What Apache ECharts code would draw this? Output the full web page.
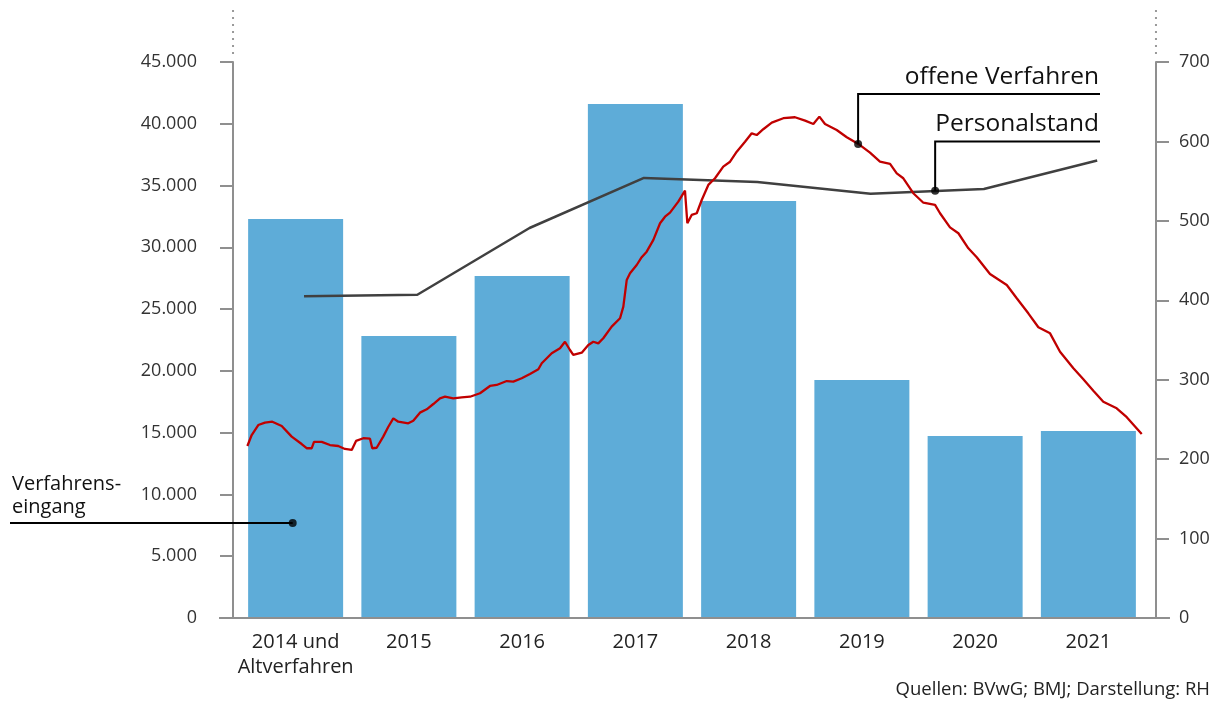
<!DOCTYPE html>
<html>
<head>
<meta charset="utf-8">
<script src="https://cdn.jsdelivr.net/npm/echarts@6/dist/echarts.min.js"></script>
<style>
  html, body { margin: 0; padding: 0; background: #fff; }
  #main { width: 1221px; height: 702px; }
</style>
</head>
<body>
<div id="main"></div>
<script>
// Kategorien und Werte
const jahre = ['2014 und\nAltverfahren', '2015', '2016', '2017', '2018', '2019', '2020', '2021']
const verfahrenseingang = [32300, 22820, 27680, 41600, 33750, 19260, 14730, 15140]

// Personalstand (rechte Achse), jeweils Jahresmitte
const personalZeit = [2014.5, 2015.5, 2016.49, 2017.5, 2018.5, 2019.5, 2020.5, 2021.5]
const personalstand = [405, 407, 491, 554, 549, 534, 540, 576]

// offene Verfahren (linke Achse), Zeitpunkt in Jahren
const offeneZeit = [
  2014.000, 2014.038, 2014.096, 2014.155, 2014.220, 2014.303, 2014.391, 2014.479, 2014.523, 2014.568,
  2014.588, 2014.656, 2014.729, 2014.802, 2014.861, 2014.921, 2014.959, 2015.023, 2015.082, 2015.102,
  2015.141, 2015.199, 2015.244, 2015.288, 2015.332, 2015.420, 2015.464, 2015.523, 2015.583, 2015.641,
  2015.700, 2015.744, 2015.817, 2015.891, 2015.965, 2016.053, 2016.141, 2016.200, 2016.289, 2016.347,
  2016.421, 2016.494, 2016.568, 2016.598, 2016.686, 2016.759, 2016.803, 2016.847, 2016.876, 2016.951,
  2017.009, 2017.053, 2017.097, 2017.141, 2017.215, 2017.289, 2017.318, 2017.348, 2017.377, 2017.436,
  2017.480, 2017.524, 2017.583, 2017.642, 2017.686, 2017.730, 2017.803, 2017.862, 2017.883, 2017.921,
  2017.966, 2018.010, 2018.068, 2018.127, 2018.200, 2018.260, 2018.319, 2018.392, 2018.451, 2018.495,
  2018.553, 2018.628, 2018.730, 2018.833, 2018.922, 2018.995, 2019.048, 2019.098, 2019.201, 2019.290,
  2019.392, 2019.495, 2019.583, 2019.672, 2019.731, 2019.789, 2019.877, 2019.966, 2020.069, 2020.113,
  2020.201, 2020.275, 2020.363, 2020.437, 2020.554, 2020.702, 2020.790, 2020.892, 2020.981, 2021.084,
  2021.172, 2021.290, 2021.378, 2021.466, 2021.554, 2021.672, 2021.761, 2021.893
]
const offeneVerfahren = [
  13920, 14810, 15620, 15810, 15890, 15540, 14680, 14080, 13740, 13740,
  14250, 14250, 14000, 13920, 13680, 13600, 14330, 14550, 14510, 13740,
  13780, 14680, 15480, 16160, 15890, 15760, 15970, 16620, 16890, 17320,
  17780, 17910, 17780, 17860, 17910, 18190, 18780, 18860, 19180, 19130,
  19400, 19750, 20130, 20620, 21430, 21830, 22360, 21690, 21290, 21470,
  22100, 22360, 22230, 22640, 23580, 24260, 25200, 27360, 27900, 28570,
  29200, 29650, 30600, 31950, 32480, 32810, 33700, 34590, 31950, 32620,
  32760, 33830, 35050, 35590, 36530, 36930, 37740, 38550, 39230, 39090,
  39560, 40090, 40450, 40530, 40250, 39980, 40580, 39980, 39500, 38910,
  38370, 37660, 36930, 36750, 35990, 35590, 34380, 33610, 33430, 32760,
  31620, 31140, 29920, 29200, 27840, 26950, 25880, 24660, 23530, 23040,
  21550, 20210, 19320, 18400, 17510, 16970, 16250, 14890
]

// Ankerpunkte der Beschriftungen (Daten-Koordinaten)
const ankerOffene = [2019.39, 38370]
const ankerPersonal = [2020.07, 538]
const ankerEingang = [2014.40, 7690]

const schrift = 'Open Sans'
const achsenGrau = '#8f8f8f'

function tausender(v) {
  return String(v).replace(/\B(?=(\d{3})+(?!\d))/g, '.')
}

let myChart = echarts.init(document.querySelector('#main'))

const option = {
  animation: false,
  textStyle: { fontFamily: schrift },
  grid: {
    left: 239,
    right: 76,
    top: 62,
    bottom: 84
  },
  xAxis: [
    {
      type: 'category',
      data: jahre,
      axisLine: { show: false },
      axisTick: { show: false },
      axisLabel: {
        interval: 0,
        color: '#222',
        fontSize: 20,
        lineHeight: 25,
        margin: 12,
        fontFamily: schrift
      }
    },
    {
      // versteckte Zeitachse für die Linien
      type: 'value',
      min: 2013.926,
      max: 2021.922,
      show: false
    }
  ],
  yAxis: [
    {
      type: 'value',
      min: 0,
      max: 45000,
      interval: 5000,
      offset: 6,
      axisLine: { show: true, lineStyle: { color: achsenGrau, width: 2 } },
      axisTick: { show: true, length: 13, lineStyle: { color: achsenGrau, width: 2 } },
      splitLine: { show: false },
      axisLabel: {
        color: '#333',
        fontSize: 18,
        margin: 36,
        fontFamily: schrift,
        formatter: tausender
      }
    },
    {
      type: 'value',
      min: 0,
      max: 700,
      interval: 100,
      offset: 11,
      position: 'right',
      axisLine: { show: true, lineStyle: { color: achsenGrau, width: 2 } },
      axisTick: { show: true, length: 13, lineStyle: { color: achsenGrau, width: 2 } },
      splitLine: { show: false },
      axisLabel: {
        color: '#333',
        fontSize: 18,
        margin: 23,
        fontFamily: schrift
      }
    }
  ],
  series: [
    {
      name: 'Verfahrenseingang',
      type: 'bar',
      data: verfahrenseingang,
      xAxisIndex: 0,
      yAxisIndex: 0,
      barWidth: 95,
      itemStyle: { color: '#5eacd8' },
      z: 1
    },
    {
      name: 'offene Verfahren',
      type: 'line',
      data: offeneZeit.map((t, i) => [t, offeneVerfahren[i]]),
      xAxisIndex: 1,
      yAxisIndex: 0,
      showSymbol: false,
      lineStyle: { color: '#c00000', width: 2.3 },
      z: 4
    },
    {
      name: 'Personalstand',
      type: 'line',
      data: personalZeit.map((t, i) => [t, personalstand[i]]),
      xAxisIndex: 1,
      yAxisIndex: 1,
      showSymbol: false,
      lineStyle: { color: '#404040', width: 2.5 },
      z: 3
    },
    {
      // Punkte der Beschriftungen, linke Achse
      type: 'scatter',
      data: [ankerOffene, ankerEingang],
      xAxisIndex: 1,
      yAxisIndex: 0,
      symbolSize: 8,
      itemStyle: { color: '#000' },
      z: 6
    },
    {
      // Punkt der Beschriftung, rechte Achse
      type: 'scatter',
      data: [ankerPersonal],
      xAxisIndex: 1,
      yAxisIndex: 1,
      symbolSize: 8,
      itemStyle: { color: '#000' },
      z: 6
    }
  ]
}

myChart.setOption(option)

// Hinweislinien aus den Pixelpositionen der Ankerpunkte
const pOffene = myChart.convertToPixel({ seriesIndex: 3 }, ankerOffene)
const pEingang = myChart.convertToPixel({ seriesIndex: 3 }, ankerEingang)
const pPersonal = myChart.convertToPixel({ seriesIndex: 4 }, ankerPersonal)
const yNull = myChart.convertToPixel({ seriesIndex: 0 }, [0, 0])[1]
const xLinks = myChart.convertToPixel({ xAxisIndex: 0 }, 0) - 56.6 - 6
const xRechts = myChart.convertToPixel({ xAxisIndex: 0 }, 7) + 56.6 + 11

const strich = { stroke: '#000', lineWidth: 2 }

myChart.setOption({
  graphic: [
    // Grundlinie
    { type: 'line', z: 10, shape: { x1: xLinks - 14, y1: yNull, x2: xRechts + 14, y2: yNull }, style: { stroke: achsenGrau, lineWidth: 2 } },
    // gepunktete Achsenverlängerungen
    { type: 'line', z: 10, shape: { x1: xLinks, y1: 10, x2: xLinks, y2: 58 }, style: { stroke: '#999', lineWidth: 2, lineDash: [2, 5] } },
    { type: 'line', z: 10, shape: { x1: xRechts, y1: 10, x2: xRechts, y2: 58 }, style: { stroke: '#999', lineWidth: 2, lineDash: [2, 5] } },
    // offene Verfahren
    { type: 'polyline', z: 10, shape: { points: [pOffene, [pOffene[0], 94], [1100, 94]] }, style: Object.assign({ fill: null }, strich) },
    { type: 'text', z: 10, x: 1099, y: 77, style: { text: 'offene Verfahren', font: '24.5px "Open Sans"', fill: '#111', textAlign: 'right', textVerticalAlign: 'middle' } },
    // Personalstand
    { type: 'polyline', z: 10, shape: { points: [pPersonal, [pPersonal[0], 141.5], [1100, 141.5]] }, style: Object.assign({ fill: null }, strich) },
    { type: 'text', z: 10, x: 1099, y: 124, style: { text: 'Personalstand', font: '24.5px "Open Sans"', fill: '#111', textAlign: 'right', textVerticalAlign: 'middle' } },
    // Verfahrenseingang
    { type: 'line', z: 10, shape: { x1: 10, y1: pEingang[1], x2: pEingang[0], y2: pEingang[1] }, style: strich },
    { type: 'text', z: 10, x: 12, y: 496, style: { text: 'Verfahrens-\neingang', font: '20px "Open Sans"', lineHeight: 23, fill: '#111', textAlign: 'left', textVerticalAlign: 'middle' } },
    // Quelle
    { type: 'text', z: 10, x: 1210, y: 690, style: { text: 'Quellen: BVwG; BMJ; Darstellung: RH', font: '18.5px "Open Sans"', fill: '#222', textAlign: 'right', textVerticalAlign: 'middle' } }
  ]
})
</script>
</body>
</html>
